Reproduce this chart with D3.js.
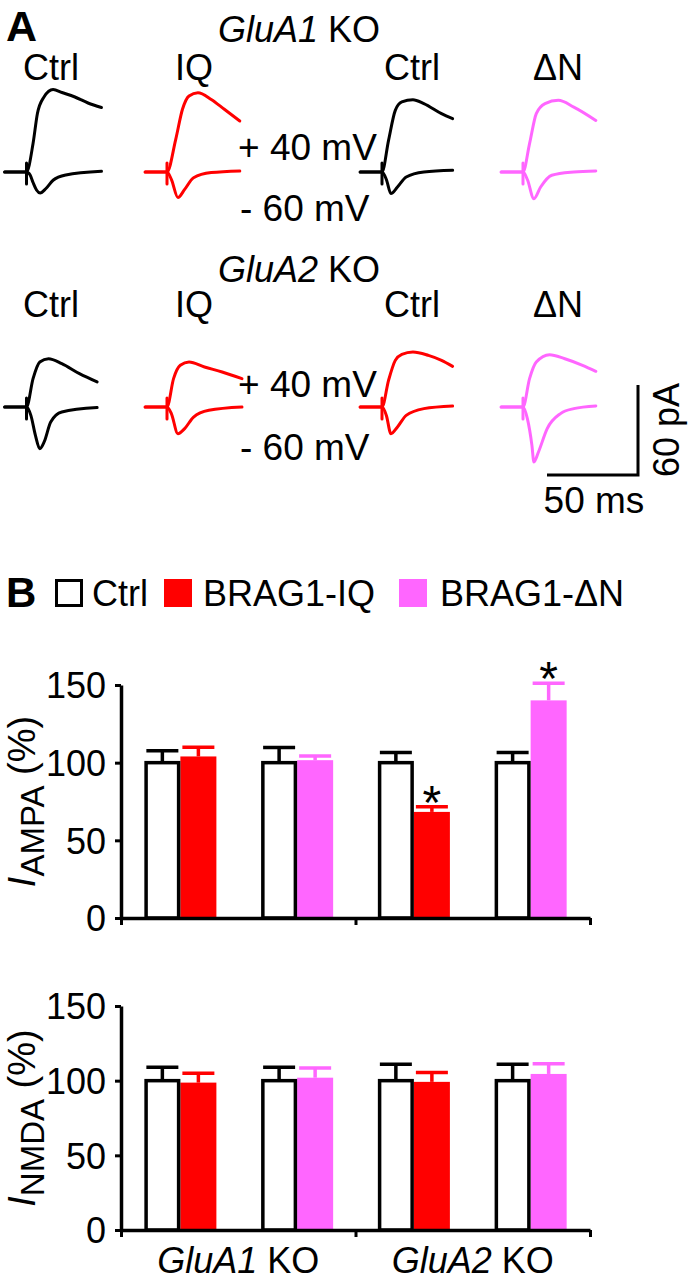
<!DOCTYPE html>
<html><head><meta charset="utf-8">
<script src="https://cdn.jsdelivr.net/npm/d3@7"></script>
<style>
body{margin:0;background:#fff}
svg{display:block}
text{font-family:"Liberation Sans",Arial,Helvetica,sans-serif;fill:#000}
</style>
</head><body>
<svg id="c" width="689" height="1280"></svg>
<script>
// ---------------- DATA ----------------
const genotypes = ["GluA1 KO", "GluA2 KO"];
const pairs = ["GluA1-IQ", "GluA1-ΔN", "GluA2-IQ", "GluA2-ΔN"];
const legendLabels = ["Ctrl", "BRAG1-IQ", "BRAG1-ΔN"];
const traceLabels = ["Ctrl", "IQ", "Ctrl", "ΔN"];
const yTicks = [0, 50, 100, 150];

const ampaCtrl = [100, 100, 100, 100];
const ampaCtrlErr = [7.6, 9.7, 6.6, 6.6];
const ampaTreat = [104, 101.6, 68.3, 140.1];
const ampaTreatErr = [5.9, 2.7, 3.3, 11];
const ampaSig = [false, false, true, true];

const nmdaCtrl = [100, 100, 100, 100];
const nmdaCtrlErr = [9, 9, 11, 11];
const nmdaTreat = [98.7, 102, 99.2, 104.5];
const nmdaTreatErr = [6.3, 6.5, 6.3, 6.8];
const nmdaSig = [false, false, false, false];

// example traces: [time (ms) from stimulus, current (pA)]
const r1Ctrl1Up = [[-12,0],[0,0],[3.6,19],[6,39],[9.6,50],[14.6,55],[19.5,53],[26.6,50],[33.8,46],[41.2,43]];
const r1Ctrl1Dn = [[-12,0],[0,0],[2,-2],[3.6,-7],[5.5,-12],[7.5,-14],[10.7,-11],[14.6,-5.5],[21.6,-2],[41.2,0.5]];
const r1IQUp = [[-12,0],[0,0],[4.8,21.8],[8.5,41.8],[12.1,50.7],[17,52.9],[24.3,48.4],[31.5,41.8],[40,34]];
const r1IQDn = [[-12,0],[0,0],[2.4,-4.9],[6,-17],[9.7,-11.6],[14.6,-3.8],[24.3,-0.4],[40,0.7]];
const r1Ctrl2Up = [[-12,0],[0,0],[3.6,21.1],[7.3,41.1],[10.9,46.7],[17,48.2],[23,45.6],[32.7,38.9],[38.8,35.6]];
const r1Ctrl2Dn = [[-12,0],[0,0],[2.4,-5],[4.9,-14.4],[8.5,-10],[13.3,-3.3],[23,0],[38.8,1.1]];
const r1DNUp = [[-12,0],[0,0],[3.6,18.9],[7.3,38.9],[12.1,45.6],[19.4,47.8],[27.9,43.3],[40,34.4]];
const r1DNDn = [[-12,0],[0,0],[2.4,-5],[6,-17.8],[9.7,-10],[15.8,-2.2],[27.9,0],[40,0.7]];

const r2Ctrl1Up = [[-12,0],[0,0],[3.6,18.9],[7.3,30],[12.1,32.2],[19.4,28.9],[29.1,22.2],[38.8,16.7]];
const r2Ctrl1Dn = [[-12,0],[0,0],[2.4,-5.6],[4.9,-18.9],[7.3,-27.8],[9.7,-23.3],[13.3,-10],[19.4,-3.3],[38.8,-0.4]];
const r2IQUp = [[-12,0],[0,0],[3.6,18.9],[7.3,27.8],[12.1,30],[20.6,26.7],[30.3,23.3],[41.2,18.9]];
const r2IQDn = [[-12,0],[0,0],[2.4,-4.4],[6,-17.8],[9.7,-14.4],[14.6,-6.7],[23,-2.2],[41.2,0]];
const r2Ctrl2Up = [[-12,0],[0,0],[3.6,17.8],[7.3,31.1],[10.9,35.1],[17,36.7],[25.5,34.4],[32.7,31.1],[38.8,27.1]];
const r2Ctrl2Dn = [[-12,0],[0,0],[2.4,-5.6],[4.9,-17.8],[8.5,-13.3],[13.3,-5.6],[23,-1.1],[38.8,0.7]];
const r2DNUp = [[-12,0],[0,0],[3.6,18.9],[7.3,30],[14.6,34.9],[23,32.2],[32.7,27.8],[40,23.8]];
const r2DNDn = [[-12,0],[0,0],[2.4,-7.8],[4.9,-25.6],[6,-36.7],[8.5,-30],[13.3,-14.4],[20.6,-4.4],[27.9,-1.1],[40,0.7]];

const artifactRange = [6, -8];      // pA extent of stimulus artifact
const scaleBarMs = 50, scaleBarPA = 60;

// ---------------- STYLE / LAYOUT ----------------
const BLACK = "#000", RED = "#ff0000", MAG = "#ff66ff";
const FONT = 36;
const svg = d3.select("#c");

// ---------------- PANEL A ----------------
svg.append("text").attr("x", 6).attr("y", 41).attr("font-size", 43).attr("font-weight", "bold").text("A");

function koTitle(cx, y, name) {
  const t = svg.append("text").attr("x", cx).attr("y", y).attr("font-size", FONT).attr("text-anchor", "middle");
  const parts = name.split(" ");
  t.append("tspan").attr("font-style", "italic").text(parts[0]);
  t.append("tspan").text(" " + parts[1]);
}

const traceRows = [
  {title: genotypes[0], titleY: 42, labelY: 80, base: 172, vY1: 160, vY2: 221,
   traces: [[r1Ctrl1Up, r1Ctrl1Dn, BLACK], [r1IQUp, r1IQDn, RED], [r1Ctrl2Up, r1Ctrl2Dn, BLACK], [r1DNUp, r1DNDn, MAG]]},
  {title: genotypes[1], titleY: 282, labelY: 317, base: 407, vY1: 397, vY2: 460,
   traces: [[r2Ctrl1Up, r2Ctrl1Dn, BLACK], [r2IQUp, r2IQDn, RED], [r2Ctrl2Up, r2Ctrl2Dn, RED], [r2DNUp, r2DNDn, MAG]]}
];
const artX = [26.5, 167, 382, 523];
const labelCX = [51, 194, 412, 558];
const MS_PX = 91 / 50, PA_PX = 90 / 60;

traceRows.forEach(row => {
  koTitle(299, row.titleY, row.title);
  traceLabels.forEach((l, i) => {
    svg.append("text").attr("x", labelCX[i]).attr("y", row.labelY).attr("font-size", FONT)
      .attr("text-anchor", "middle").text(l);
  });
  row.traces.forEach((tr, i) => {
    const x = d3.scaleLinear().domain([0, scaleBarMs]).range([artX[i], artX[i] + scaleBarMs * MS_PX]);
    const y = d3.scaleLinear().domain([0, scaleBarPA]).range([row.base, row.base - scaleBarPA * PA_PX]);
    const line = d3.line().x(d => x(d[0])).y(d => y(d[1])).curve(d3.curveMonotoneX);
    const g = svg.append("g").attr("fill", "none").attr("stroke", tr[2]).attr("stroke-width", 3)
      .attr("stroke-linejoin", "round").attr("stroke-linecap", "round");
    g.append("path").attr("d", line(tr[1]));
    g.append("path").attr("d", line(tr[0]));
    g.append("line").attr("x1", x(0)).attr("x2", x(0)).attr("y1", y(artifactRange[0])).attr("y2", y(artifactRange[1]));
  });
  svg.append("text").attr("x", 238).attr("y", row.vY1).attr("font-size", 37).text("+ 40 mV");
  svg.append("text").attr("x", 240).attr("y", row.vY2).attr("font-size", 37).text("- 60 mV");
});

// scale bar
{
  const sx = d3.scaleLinear().domain([0, scaleBarMs]).range([638 - scaleBarMs * MS_PX, 638]);
  const sy = d3.scaleLinear().domain([0, scaleBarPA]).range([475, 475 - scaleBarPA * PA_PX]);
  const g = svg.append("g").attr("stroke", BLACK).attr("stroke-width", 3).attr("fill", "none");
  g.append("path").attr("d", `M${sx(0)},${sy(0)}H${sx(scaleBarMs)}V${sy(scaleBarPA)}`);
  svg.append("text").attr("x", 594).attr("y", 513).attr("font-size", 37).attr("text-anchor", "middle")
    .text(scaleBarMs + " ms");
  svg.append("text").attr("transform", `translate(679,${sy(scaleBarPA / 2)}) rotate(-90)`)
    .attr("font-size", 36).attr("text-anchor", "middle").text(scaleBarPA + " pA");
}

// ---------------- PANEL B legend ----------------
svg.append("text").attr("x", 6).attr("y", 607).attr("font-size", 42).attr("font-weight", "bold").text("B");
const legendItems = [
  {x: 55, tx: 92, fill: "#fff", stroke: BLACK},
  {x: 164, tx: 203, fill: RED, stroke: null},
  {x: 399, tx: 440, fill: MAG, stroke: null}
];
legendItems.forEach((it, i) => {
  if (it.stroke) {
    svg.append("rect").attr("x", it.x + 1.5).attr("y", 580.5).attr("width", 25).attr("height", 25)
      .attr("fill", it.fill).attr("stroke", it.stroke).attr("stroke-width", 3);
  } else {
    svg.append("rect").attr("x", it.x).attr("y", 579).attr("width", 28).attr("height", 28).attr("fill", it.fill);
  }
  svg.append("text").attr("x", it.tx).attr("y", 606).attr("font-size", FONT).text(legendLabels[i]);
});

// ---------------- BAR CHARTS ----------------
const treatColors = [RED, MAG, RED, MAG];
const X0 = 121, X1 = 590;

function barChart(cfg) {
  const x = d3.scaleBand().domain(pairs).range([X0, X1]).paddingInner(0.383).paddingOuter(0.2);
  const xs = d3.scaleBand().domain(["ctrl", "treat"]).range([0, x.bandwidth()]);
  const y = d3.scaleLinear().domain([0, 150]).range([cfg.y0, cfg.y150]);
  const g = svg.append("g");
  const bw = xs.bandwidth();
  const SW = 3.5;

  pairs.forEach((p, i) => {
    const xc = x(p) + xs("ctrl"), xt = x(p) + xs("treat");
    g.append("rect").attr("x", xt).attr("width", bw).attr("y", y(cfg.treat[i]))
      .attr("height", y(0) - y(cfg.treat[i])).attr("fill", treatColors[i]);
    g.append("rect").attr("x", xc + SW / 2).attr("width", bw - SW).attr("y", y(cfg.ctrl[i]))
      .attr("height", y(0) - y(cfg.ctrl[i])).attr("fill", "#fff").attr("stroke", BLACK).attr("stroke-width", SW);
    [[xc, cfg.ctrl[i], cfg.ctrlErr[i], BLACK], [xt, cfg.treat[i], cfg.treatErr[i], treatColors[i]]].forEach(e => {
      const cx = e[0] + bw / 2;
      const eg = g.append("g").attr("stroke", e[3]).attr("stroke-width", 3.5);
      eg.append("line").attr("x1", cx).attr("x2", cx).attr("y1", y(e[1])).attr("y2", y(e[1] + e[2]));
      eg.append("line").attr("x1", cx - 16).attr("x2", cx + 16).attr("y1", y(e[1] + e[2])).attr("y2", y(e[1] + e[2]));
    });
    if (cfg.sig[i]) {
      g.append("text").attr("x", xt + bw / 2).attr("y", y(cfg.treat[i] + cfg.treatErr[i]) + 12)
        .attr("font-size", 48).attr("text-anchor", "middle").text("*");
    }
  });

  const ya = g.append("g").attr("transform", `translate(${X0},0)`)
    .call(d3.axisLeft(y).tickValues(yTicks).tickFormat(d3.format("d")).tickSize(6).tickSizeOuter(0).tickPadding(9));
  ya.select(".domain").attr("stroke-width", 3.5);
  ya.selectAll(".tick line").attr("stroke-width", 3);
  ya.selectAll(".tick text").attr("font-size", 36).attr("font-family", null).attr("dy", "0.36em");

  const gx = d3.scaleBand().domain(genotypes).range([X0, X1]);
  const xb = d3.scaleLinear().domain([0, genotypes.length]).range([X0, X1]);
  const xa = g.append("g").attr("transform", `translate(0,${cfg.y0})`)
    .call(d3.axisBottom(xb).tickValues(d3.range(genotypes.length + 1)).tickFormat("").tickSize(7).tickSizeOuter(0));
  xa.select(".domain").attr("stroke-width", 3.5);
  xa.selectAll(".tick line").attr("stroke-width", 3);

  if (cfg.xLabels) {
    genotypes.forEach(gn => {
      const parts = gn.split(" ");
      const t = g.append("text").attr("x", gx(gn) + gx.bandwidth() / 2).attr("y", cfg.y0 + 43)
        .attr("font-size", FONT).attr("text-anchor", "middle");
      t.append("tspan").attr("font-style", "italic").text(parts[0]);
      t.append("tspan").text(" " + parts[1]);
    });
  }

  const t = g.append("text").attr("transform", `translate(35,${(cfg.y0 + cfg.y150) / 2}) rotate(-90)`)
    .attr("text-anchor", "middle").attr("font-size", 38);
  t.append("tspan").attr("font-style", "italic").text("I");
  t.append("tspan").attr("font-size", 33).attr("dy", 9).text(cfg.sub);
  t.append("tspan").attr("dy", -9).text(" (%)");
}

barChart({y0: 918, y150: 685, ctrl: ampaCtrl, ctrlErr: ampaCtrlErr, treat: ampaTreat, treatErr: ampaTreatErr,
  sig: ampaSig, sub: "AMPA", xLabels: false});
barChart({y0: 1230, y150: 1006, ctrl: nmdaCtrl, ctrlErr: nmdaCtrlErr, treat: nmdaTreat, treatErr: nmdaTreatErr,
  sig: nmdaSig, sub: "NMDA", xLabels: true});
</script>
</body></html>
